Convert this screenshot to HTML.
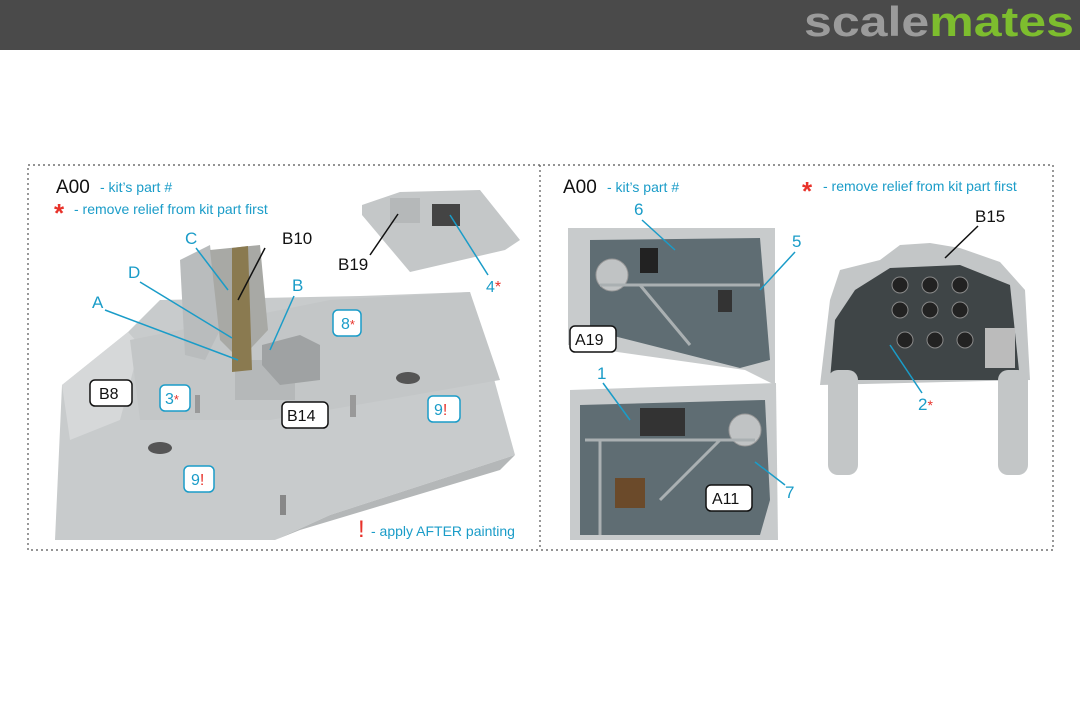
<!DOCTYPE html>
<html><head><meta charset="utf-8"><style>
body{margin:0;width:1080px;height:716px;background:#fff;overflow:hidden;font-family:"Liberation Sans",sans-serif}
</style></head><body>
<svg width="1080" height="716" viewBox="0 0 1080 716" xmlns="http://www.w3.org/2000/svg" font-family="Liberation Sans, sans-serif">
<rect x="0" y="0" width="1080" height="50" fill="#4a4a4a"/>
<text x="804" y="36" font-size="42" font-weight="bold" fill="#9b9b9b" textLength="270" lengthAdjust="spacingAndGlyphs">scale<tspan fill="#7dbd2e">mates</tspan></text>
<rect x="28" y="165" width="1025" height="385" fill="none" stroke="#555" stroke-width="1.2" stroke-dasharray="2,3"/>
<line x1="540" y1="165" x2="540" y2="550" stroke="#555" stroke-width="1.2" stroke-dasharray="2,3"/>

<!-- left model -->
<polygon points="62,385 128,332 160,300 360,296 470,292 515,455 330,515 275,540 55,540" fill="#c8cbcc"/>
<polygon points="62,385 128,332 140,345 120,420 70,440" fill="#d6d8d9"/>
<polygon points="275,540 330,515 515,455 500,470 300,530" fill="#b4b7b8"/>
<polygon points="130,340 330,300 470,292 500,380 270,420 140,420" fill="#c3c6c7"/>
<rect x="235" y="360" width="60" height="40" fill="#b5b8b9"/>
<polygon points="180,260 210,245 220,330 205,360 185,355" fill="#b9bcbd"/>
<polygon points="210,250 260,245 268,330 240,360 220,340" fill="#a8a9a5"/>
<polygon points="232,248 248,246 252,370 232,372" fill="#8a7a50"/>
<polygon points="262,345 300,335 320,345 320,380 280,385 262,365" fill="#9fa2a3"/>
<ellipse cx="408" cy="378" rx="12" ry="6" fill="#555"/>
<ellipse cx="160" cy="448" rx="12" ry="6" fill="#555"/>
<rect x="280" y="495" width="6" height="20" fill="#888"/><rect x="350" y="395" width="6" height="22" fill="#999"/><rect x="195" y="395" width="5" height="18" fill="#999"/>
<!-- B19 part -->
<polygon points="362,205 400,192 480,190 520,240 505,250 410,272 362,215" fill="#c4c7c8"/>
<rect x="432" y="204" width="28" height="22" fill="#444"/>
<rect x="390" y="198" width="30" height="25" fill="#b5b8b9"/>

<!-- left labels -->
<text x="56" y="193" font-size="19" fill="#111">A00</text>
<text x="100" y="192" font-size="14" fill="#1a9cc8">- kit’s part #</text>
<text x="54" y="222" font-size="26" fill="#e8322a" font-weight="bold">*</text>
<text x="74" y="214" font-size="14" fill="#1a9cc8">- remove relief from kit part first</text>
<g font-size="17" fill="#1a9cc8">
<text x="185" y="244">C</text><text x="128" y="278">D</text><text x="92" y="308">A</text><text x="292" y="291">B</text>
</g>
<text x="282" y="244" font-size="17" fill="#111">B10</text>
<text x="338" y="270" font-size="17" fill="#111">B19</text>
<text x="486" y="292" font-size="16" fill="#1a9cc8">4<tspan fill="#e8322a">*</tspan></text>
<g stroke="#1a9cc8" stroke-width="1.5" fill="none">
<line x1="196" y1="248" x2="228" y2="290"/><line x1="140" y1="282" x2="232" y2="338"/><line x1="105" y1="310" x2="238" y2="360"/><line x1="294" y1="296" x2="270" y2="350"/><line x1="488" y1="275" x2="450" y2="215"/>
</g>
<line x1="265" y1="248" x2="238" y2="300" stroke="#111" stroke-width="1.5"/>
<line x1="370" y1="255" x2="398" y2="214" stroke="#111" stroke-width="1.5"/>
<g fill="#fff" stroke="#1a9cc8" stroke-width="1.5">
<rect x="333" y="310" width="28" height="26" rx="5"/><rect x="160" y="385" width="30" height="26" rx="5"/><rect x="428" y="396" width="32" height="26" rx="5"/><rect x="184" y="466" width="30" height="26" rx="5"/>
</g>
<g font-size="16" fill="#1a9cc8">
<text x="341" y="329">8<tspan fill="#e8322a" font-size="13">*</tspan></text>
<text x="165" y="404">3<tspan fill="#e8322a" font-size="13">*</tspan></text>
<text x="434" y="415">9<tspan fill="#e8322a">!</tspan></text>
<text x="191" y="485">9<tspan fill="#e8322a">!</tspan></text>
</g>
<g fill="#fff" stroke="#111" stroke-width="1.5">
<rect x="90" y="380" width="42" height="26" rx="5"/><rect x="282" y="402" width="46" height="26" rx="5"/>
</g>
<text x="99" y="399" font-size="16" fill="#111">B8</text>
<text x="287" y="421" font-size="16" fill="#111">B14</text>
<text x="358" y="537" font-size="24" fill="#e8322a">!</text>
<text x="371" y="536" font-size="14" fill="#1a9cc8">- apply AFTER painting</text>

<!-- right: A19 -->
<polygon points="568,228 775,228 775,385 745,370 568,345" fill="#c8cbcc"/>
<polygon points="590,240 760,238 770,360 740,368 590,330" fill="#5f6d73"/>
<circle cx="612" cy="275" r="16" fill="#c0c3c4" stroke="#999"/>
<rect x="640" y="248" width="18" height="25" fill="#222"/><rect x="718" y="290" width="14" height="22" fill="#333"/>
<line x1="600" y1="285" x2="760" y2="285" stroke="#aab0b2" stroke-width="3"/>
<line x1="640" y1="285" x2="690" y2="345" stroke="#aab0b2" stroke-width="3"/>
<!-- A11 -->
<polygon points="570,390 776,383 778,540 570,540" fill="#c8cbcc"/>
<polygon points="580,405 765,400 770,500 760,535 580,535" fill="#5f6d73"/>
<circle cx="745" cy="430" r="16" fill="#c0c3c4" stroke="#999"/>
<line x1="585" y1="440" x2="755" y2="440" stroke="#aab0b2" stroke-width="3"/>
<line x1="600" y1="440" x2="600" y2="535" stroke="#aab0b2" stroke-width="3"/>
<line x1="660" y1="500" x2="720" y2="440" stroke="#aab0b2" stroke-width="3"/>
<rect x="640" y="408" width="45" height="28" fill="#333"/><rect x="615" y="478" width="30" height="30" fill="#6b4a2a"/>
<!-- B15 -->
<polygon points="840,270 880,260 900,245 930,243 960,248 1000,262 1025,290 1030,380 820,385 830,300" fill="#c3c6c7"/>
<polygon points="855,290 890,268 960,265 1010,285 1020,380 830,380 835,320" fill="#3f4547"/>
<rect x="828" y="370" width="30" height="105" rx="10" fill="#c3c6c7"/>
<rect x="998" y="370" width="30" height="105" rx="10" fill="#c3c6c7"/>
<rect x="985" y="328" width="30" height="40" fill="#bbb"/>
<g fill="#222" stroke="#888"><circle cx="900" cy="285" r="8"/><circle cx="930" cy="285" r="8"/><circle cx="960" cy="285" r="8"/><circle cx="900" cy="310" r="8"/><circle cx="930" cy="310" r="8"/><circle cx="960" cy="310" r="8"/><circle cx="905" cy="340" r="8"/><circle cx="935" cy="340" r="8"/><circle cx="965" cy="340" r="8"/></g>

<text x="563" y="193" font-size="19" fill="#111">A00</text>
<text x="607" y="192" font-size="14" fill="#1a9cc8">- kit’s part #</text>
<text x="802" y="200" font-size="26" fill="#e8322a" font-weight="bold">*</text>
<text x="823" y="191" font-size="14" fill="#1a9cc8">- remove relief from kit part first</text>
<text x="975" y="222" font-size="17" fill="#111">B15</text>
<line x1="978" y1="226" x2="945" y2="258" stroke="#111" stroke-width="1.5"/>
<g font-size="17" fill="#1a9cc8">
<text x="634" y="215">6</text><text x="792" y="247">5</text><text x="597" y="379">1</text><text x="785" y="498">7</text><text x="918" y="410">2<tspan fill="#e8322a" font-size="14">*</tspan></text>
</g>
<g stroke="#1a9cc8" stroke-width="1.5">
<line x1="642" y1="220" x2="675" y2="250"/><line x1="795" y1="252" x2="760" y2="290"/><line x1="603" y1="383" x2="630" y2="420"/><line x1="785" y1="485" x2="755" y2="462"/><line x1="922" y1="393" x2="890" y2="345"/>
</g>
<g fill="#fff" stroke="#111" stroke-width="1.5">
<rect x="570" y="326" width="46" height="26" rx="5"/><rect x="706" y="485" width="46" height="26" rx="5"/>
</g>
<text x="575" y="345" font-size="16" fill="#111">A19</text>
<text x="712" y="504" font-size="16" fill="#111">A11</text>
</svg>
</body></html>
